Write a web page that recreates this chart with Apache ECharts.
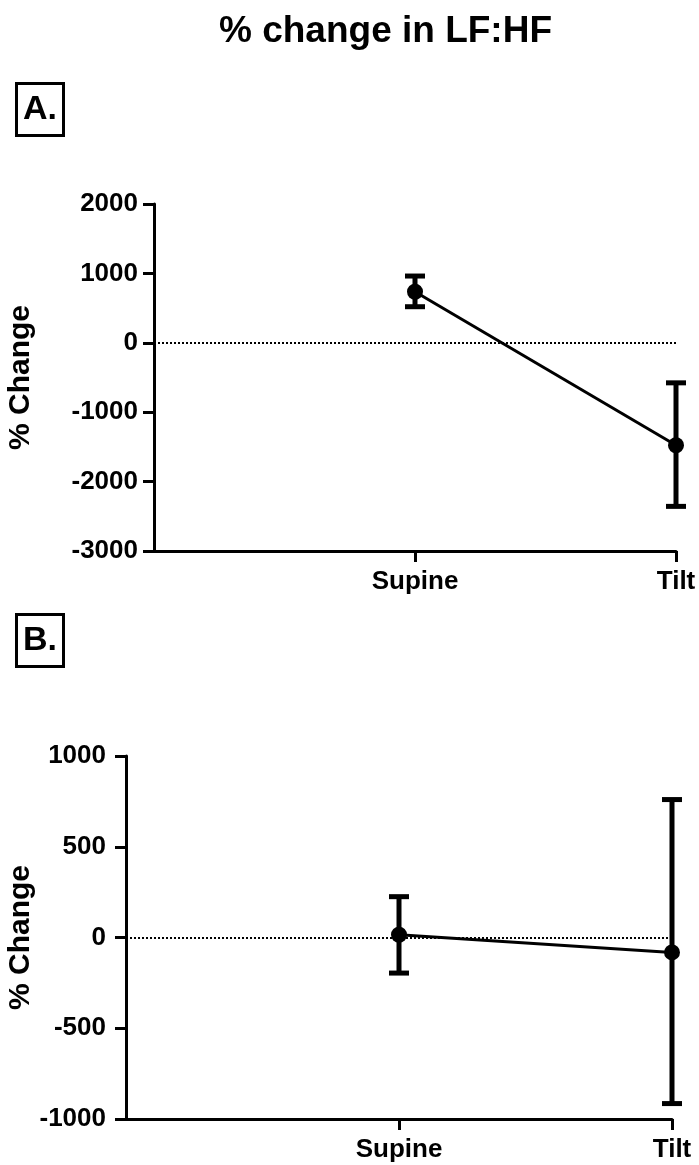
<!DOCTYPE html>
<html>
<head>
<meta charset="utf-8">
<script src="https://cdn.jsdelivr.net/npm/echarts@6/dist/echarts.min.js"></script>
<style>
  html, body { margin: 0; padding: 0; background: #fff; }
  #main { width: 699px; height: 1165px; }
</style>
</head>
<body>
<div id="main"></div>
<script>
// data
var categories = ['Supine', 'Tilt'];
// panel A
var meanA = [736, -1476];
var upperA = [962, -577];
var lowerA = [520, -2357];
// panel B
var meanB = [15, -82];
var upperB = [225, 760];
var lowerB = [-196, -915];

var FONT = "'Liberation Sans', Arial, sans-serif";
var myChart = echarts.init(document.getElementById('main'));

// x position of each category: 1, 2 ...
function linePoints(means) {
    var out = [];
    for (var i = 0; i < means.length; i++) {
        out.push([i + 1, means[i]]);
    }
    return out;
}
function barPoints(upper, lower) {
    var out = [];
    for (var i = 0; i < upper.length; i++) {
        out.push([i + 1, upper[i], lower[i]]);
    }
    return out;
}

// error bar with caps
function renderErr(params, api) {
    var x = api.value(0);
    var hi = api.coord([x, api.value(1)]);
    var lo = api.coord([x, api.value(2)]);
    var w = 10;
    var st = { stroke: '#000', lineWidth: 5 };
    return {
        type: 'group',
        children: [
            { type: 'line', shape: { x1: hi[0], y1: hi[1], x2: lo[0], y2: lo[1] }, style: st },
            { type: 'line', shape: { x1: hi[0] - w, y1: hi[1], x2: hi[0] + w, y2: hi[1] }, style: st },
            { type: 'line', shape: { x1: lo[0] - w, y1: lo[1], x2: lo[0] + w, y2: lo[1] }, style: st }
        ]
    };
}

function xAxisOf(idx) {
    return {
        type: 'value',
        gridIndex: idx,
        min: 0,
        max: 2,
        interval: 1,
        splitLine: { show: false },
        axisLine: { onZero: false, lineStyle: { color: '#000', width: 3 } },
        axisTick: { customValues: [1, 2], length: 11, lineStyle: { color: '#000', width: 3 } },
        axisLabel: {
            customValues: [1, 2],
            margin: 18,
            color: '#000',
            fontFamily: FONT,
            fontWeight: 'bold',
            fontSize: 26,
            formatter: function (v) { return categories[v - 1] || ''; }
        }
    };
}
function yAxisOf(idx, min, max, step, gap, lblMargin) {
    return {
        type: 'value',
        gridIndex: idx,
        min: min,
        max: max,
        interval: step,
        name: '% Change',
        nameLocation: 'middle',
        nameGap: gap,
        nameMoveOverlap: false,
        nameTextStyle: { color: '#000', fontFamily: FONT, fontWeight: 'bold', fontSize: 30 },
        splitLine: { show: false },
        axisLine: { show: true, onZero: false, lineStyle: { color: '#000', width: 3 } },
        axisTick: { show: true, length: 11, lineStyle: { color: '#000', width: 3 } },
        axisLabel: {
            margin: lblMargin,
            color: '#000',
            fontFamily: FONT,
            fontWeight: 'bold',
            fontSize: 26,
            formatter: function (v) { return String(v); }
        }
    };
}

function lineSeries(idx, means) {
    return {
        type: 'line',
        xAxisIndex: idx,
        yAxisIndex: idx,
        data: linePoints(means),
        symbol: 'circle',
        symbolSize: 16,
        itemStyle: { color: '#000' },
        lineStyle: { color: '#000', width: 3 },
        z: 5,
        markLine: {
            silent: true,
            symbol: ['none', 'none'],
            label: { show: false },
            lineStyle: { color: '#000', width: 2, type: [2, 2] },
            data: [{ yAxis: 0 }]
        }
    };
}
function errSeries(idx, upper, lower) {
    return {
        type: 'custom',
        xAxisIndex: idx,
        yAxisIndex: idx,
        data: barPoints(upper, lower),
        renderItem: renderErr,
        clip: false,
        z: 4
    };
}

option = {
    animation: false,
    backgroundColor: '#fff',
    title: [
        {
            text: '% change in LF:HF',
            left: 219,
            top: 13,
            padding: 0,
            textStyle: { color: '#000', fontFamily: FONT, fontWeight: 'bold', fontSize: 37 }
        },
        {
            text: 'A.',
            left: 16,
            top: 83,
            padding: [10, 7, 9, 7],
            borderColor: '#000',
            borderWidth: 3,
            textStyle: { color: '#000', fontFamily: FONT, fontWeight: 'bold', fontSize: 34 }
        },
        {
            text: 'B.',
            left: 16,
            top: 614,
            padding: [10, 7, 9, 7],
            borderColor: '#000',
            borderWidth: 3,
            textStyle: { color: '#000', fontFamily: FONT, fontWeight: 'bold', fontSize: 34 }
        }
    ],
    grid: [
        { left: 154, right: 23, top: 204, bottom: 614, outerBoundsMode: 'none' },
        { left: 126, right: 27, top: 756, bottom: 46, outerBoundsMode: 'none' }
    ],
    xAxis: [xAxisOf(0), xAxisOf(1)],
    yAxis: [
        yAxisOf(0, -3000, 2000, 1000, 118, 16),
        yAxisOf(1, -1000, 1000, 500, 90, 20)
    ],
    series: [
        errSeries(0, upperA, lowerA),
        lineSeries(0, meanA),
        errSeries(1, upperB, lowerB),
        lineSeries(1, meanB)
    ]
};
myChart.setOption(option);
</script>
</body>
</html>
